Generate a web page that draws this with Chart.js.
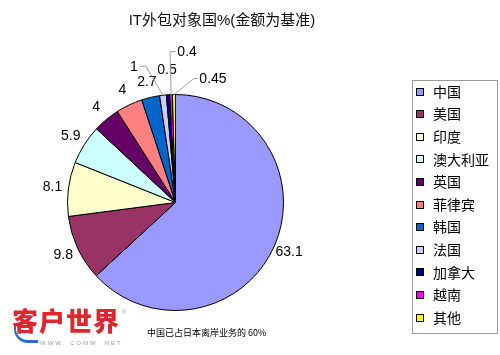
<!DOCTYPE html>
<html>
<head>
<meta charset="utf-8">
<script src="https://cdn.jsdelivr.net/npm/chart.js@4/dist/chart.umd.min.js"></script>
<style>
  html, body { margin: 0; padding: 0; background: #fff; }
  #wrap { position: relative; width: 500px; height: 355px; overflow: hidden; }
  #c { position: absolute; left: 0; top: 0; }
  .title { position: absolute; left: 0; width: 444px; top: 8px; text-align: center;
           font-family: "Liberation Sans", "Noto Sans CJK SC", sans-serif; font-size: 15px; color: #111; }
  .logo { position: absolute; left: 12px; top: 305px; font-family: "Noto Sans CJK SC", sans-serif;
          font-weight: 900; font-size: 26px; color: #e0262c; letter-spacing: 1px; line-height: 30px; }
  .reg { position: absolute; left: 122px; top: 309px; font-size: 6px; color: #999; font-family: "Liberation Sans", sans-serif; }
  .url { position: absolute; left: 40px; top: 340px; font-size: 6px; color: #999; letter-spacing: 2px;
         font-family: "Liberation Sans", sans-serif; }
  .swoosh { position: absolute; left: 14px; top: 326px; width: 22px; height: 14px; border-bottom: 3px solid #2a6fc0;
            border-left: 2px solid #2a6fc0; border-radius: 0 0 0 14px; }
  .caption { position: absolute; left: 147px; top: 326px; font-family: "Noto Sans CJK SC", sans-serif;
             font-size: 9px; color: #000; }
</style>
</head>
<body>
<div id="wrap">
  <canvas id="c" width="500" height="355"></canvas>
  <div class="title">IT外包对象国%(金额为基准)</div>
  <div class="swoosh"></div>
  <div class="logo">客户世界</div>
  <div class="reg">®</div>
  <div class="url">WWW. COMW. NET</div>
  <div class="caption">中国已占日本离岸业务的 60%</div>
</div>
<script>
// ---- data ----
const categories = ["中国", "美国", "印度", "澳大利亚", "英国", "菲律宾", "韩国", "法国", "加拿大", "越南", "其他"];
const shares = [63.1, 9.8, 8.1, 5.9, 4, 4, 2.7, 1, 0.5, 0.4, 0.45];
const valueLabels = ["63.1", "9.8", "8.1", "5.9", "4", "4", "2.7", "1", "0.5", "0.4", "0.45"];

// ---- style ----
const sliceColors = ["#9999FF", "#993366", "#FFFFCC", "#CCFFFF", "#660066", "#FF8080",
                     "#0066CC", "#CCCCFF", "#000080", "#FF00FF", "#FFFF00"];
// callout label offsets (from slice edge midpoint) for thin slices
const callouts = {
  "法国":   { dx: -29, dy: -28, elbowDx: -17, side: 1 },
  "加拿大": { dx: -1,  dy: -25, elbowDx: null, side: 0 },
  "越南":   { dx: 16,  dy: -42, elbowDx: -1,  side: -1 },
  "其他":   { dx: 39,  dy: -15, elbowDx: 20,  side: -1 }
};

const labelPlugin = {
  id: 'sliceLabels',
  afterDatasetsDraw(chart) {
    const ctx = chart.ctx;
    const meta = chart.getDatasetMeta(0);
    ctx.save();
    ctx.font = '14px "Liberation Sans", Arial, sans-serif';
    ctx.fillStyle = '#000';
    ctx.textAlign = 'center';
    ctx.textBaseline = 'middle';
    meta.data.forEach((arc, i) => {
      const p = arc.getProps(['x', 'y', 'startAngle', 'endAngle', 'outerRadius'], true);
      const mid = (p.startAngle + p.endAngle) / 2;
      const txt = valueLabels[i];
      const co = callouts[categories[i]];
      if (co) {
        const ex = p.x + p.outerRadius * Math.cos(mid);
        const ey = p.y + p.outerRadius * Math.sin(mid);
        const lx = ex + co.dx, ly = ey + co.dy;
        const w = ctx.measureText(txt).width;
        if (co.elbowDx !== null) {
          ctx.strokeStyle = '#a0a0a0';
          ctx.lineWidth = 1;
          ctx.beginPath();
          ctx.moveTo(ex, ey);
          ctx.lineTo(ex + co.elbowDx, ly - 1);
          ctx.lineTo(lx + co.side * (w / 2 + 2), ly - 1);
          ctx.stroke();
        }
        ctx.fillStyle = '#000';
        ctx.fillText(txt, lx, ly);
      } else {
        const d = p.outerRadius + 16;
        ctx.fillText(txt, p.x + d * Math.cos(mid), p.y + d * Math.sin(mid));
      }
    });
    ctx.restore();
  }
};

const legendPlugin = {
  id: 'boxLegend',
  afterDraw(chart) {
    const ctx = chart.ctx;
    ctx.save();
    ctx.strokeStyle = '#9a9a9a';
    ctx.lineWidth = 1;
    ctx.strokeRect(412.5, 80.5, 85, 253);
    ctx.font = '14px "Noto Sans CJK SC", sans-serif';
    ctx.textAlign = 'left';
    ctx.textBaseline = 'middle';
    categories.forEach((name, i) => {
      const cy = 91.5 + i * 22.6;
      ctx.fillStyle = sliceColors[i];
      ctx.fillRect(416.5, Math.round(cy) - 3.5, 7, 7);
      ctx.strokeStyle = '#000';
      ctx.strokeRect(416.5, Math.round(cy) - 3.5, 7, 7);
      ctx.fillStyle = '#000';
      ctx.fillText(name, 433, cy);
    });
    ctx.restore();
  }
};

new Chart(document.getElementById('c'), {
  type: 'pie',
  data: {
    labels: categories,
    datasets: [{
      data: shares,
      backgroundColor: sliceColors,
      borderColor: '#000',
      borderWidth: 1
    }]
  },
  options: {
    responsive: false,
    devicePixelRatio: 1,
    animation: false,
    rotation: 0,
    layout: { padding: { left: 67, top: 94, right: 216, bottom: 44 } },
    plugins: {
      legend: { display: false },
      tooltip: { enabled: false },
      title: { display: false }
    }
  },
  plugins: [labelPlugin, legendPlugin]
});
</script>
</body>
</html>
